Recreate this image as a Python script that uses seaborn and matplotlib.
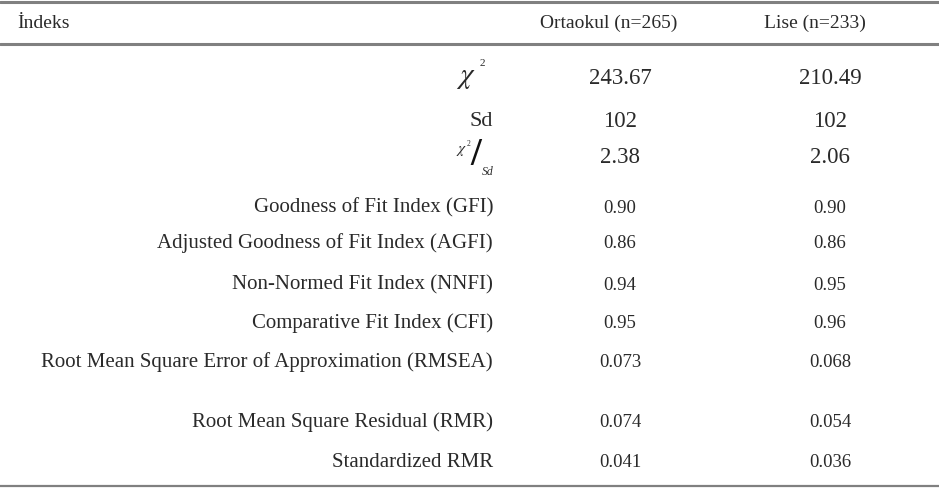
"""
Fit indices table (Ortaokul vs Lise) drawn as a figure.
"""

import seaborn as sns
import matplotlib.pyplot as plt

########  data  ########

LABELS = [
    'Goodness of Fit Index (GFI)',
    'Adjusted Goodness of Fit Index (AGFI)',
    'Non-Normed Fit Index (NNFI)',
    'Comparative Fit Index (CFI)',
    'Root Mean Square Error of Approximation (RMSEA)',
    'Root Mean Square Residual (RMR)',
    'Standardized RMR',
]
ORTAOKUL = ['0.90', '0.86', '0.94', '0.95', '0.073', '0.074', '0.041']
LISE = ['0.90', '0.86', '0.95', '0.96', '0.068', '0.054', '0.036']

TOP_ORTAOKUL = ['243.67', '102', '2.38']   # chi2, Sd, chi2/Sd
TOP_LISE = ['210.49', '102', '2.06']

HEADERS = ['İndeks', 'Ortaokul (n=265)', 'Lise (n=233)']

########  layout  ########

W, H = 939, 490
TOP_Y = [78, 121, 157]
ROW_Y = [208, 243, 285, 323, 362, 422, 462]
LABEL_X = 493
COL_X = [620, 830]
HEAD_X = [17, 609, 815]
HEAD_Y = 23
TXT = '#2a2a2a'
RULE = '#808080'

sns.set_style('white')
plt.rcParams['font.family'] = ['Liberation Serif', 'DejaVu Serif']
plt.rcParams['mathtext.fontset'] = 'stix'

fig = plt.figure(figsize=(W / 100, H / 100), dpi=100)
ax = fig.add_axes([0, 0, 1, 1])
ax.set_xlim(0, W)
ax.set_ylim(H, 0)
ax.axis('off')

# rules
ax.axhline(2.5, color=RULE, lw=2.2)
ax.axhline(44, color=RULE, lw=2.2)
ax.axhline(486, color=RULE, lw=1.6)

# header
ax.text(HEAD_X[0], HEAD_Y, HEADERS[0], ha='left', va='center', fontsize=14, color=TXT)
for x, h in zip(HEAD_X[1:], HEADERS[1:]):
    ax.text(x, HEAD_Y, h, ha='center', va='center', fontsize=14, color=TXT)

# chi-square rows
ax.text(466, TOP_Y[0], r'$\chi$', ha='center', va='center', fontsize=21, color=TXT)
ax.text(482, 63, '2', ha='center', va='center', fontsize=8, color=TXT)
ax.text(LABEL_X, TOP_Y[1], 'Sd', ha='right', va='center', fontsize=16, color=TXT)
ax.text(462, 151, r'$\chi$', ha='center', va='center', fontsize=11, color=TXT)
ax.text(469, 144, '2', ha='center', va='center', fontsize=5.5, color=TXT)
ax.text(476, 155, '/', ha='center', va='center', fontsize=28,
        fontweight='bold', color='#111111')
ax.text(488, 172, 'Sd', ha='center', va='center', fontsize=8.5,
        style='italic', color=TXT)

for y, a, b in zip(TOP_Y, TOP_ORTAOKUL, TOP_LISE):
    ax.text(COL_X[0], y, a, ha='center', va='center', fontsize=16.5, color=TXT)
    ax.text(COL_X[1], y, b, ha='center', va='center', fontsize=16.5, color=TXT)

# fit index rows
for y, lab, a, b in zip(ROW_Y, LABELS, ORTAOKUL, LISE):
    ax.text(LABEL_X, y, lab, ha='right', va='center', fontsize=15, color=TXT)
    ax.text(COL_X[0], y, a, ha='center', va='center', fontsize=13.5, color=TXT)
    ax.text(COL_X[1], y, b, ha='center', va='center', fontsize=13.5, color=TXT)

plt.savefig('out.png', dpi=100)
plt.close()
